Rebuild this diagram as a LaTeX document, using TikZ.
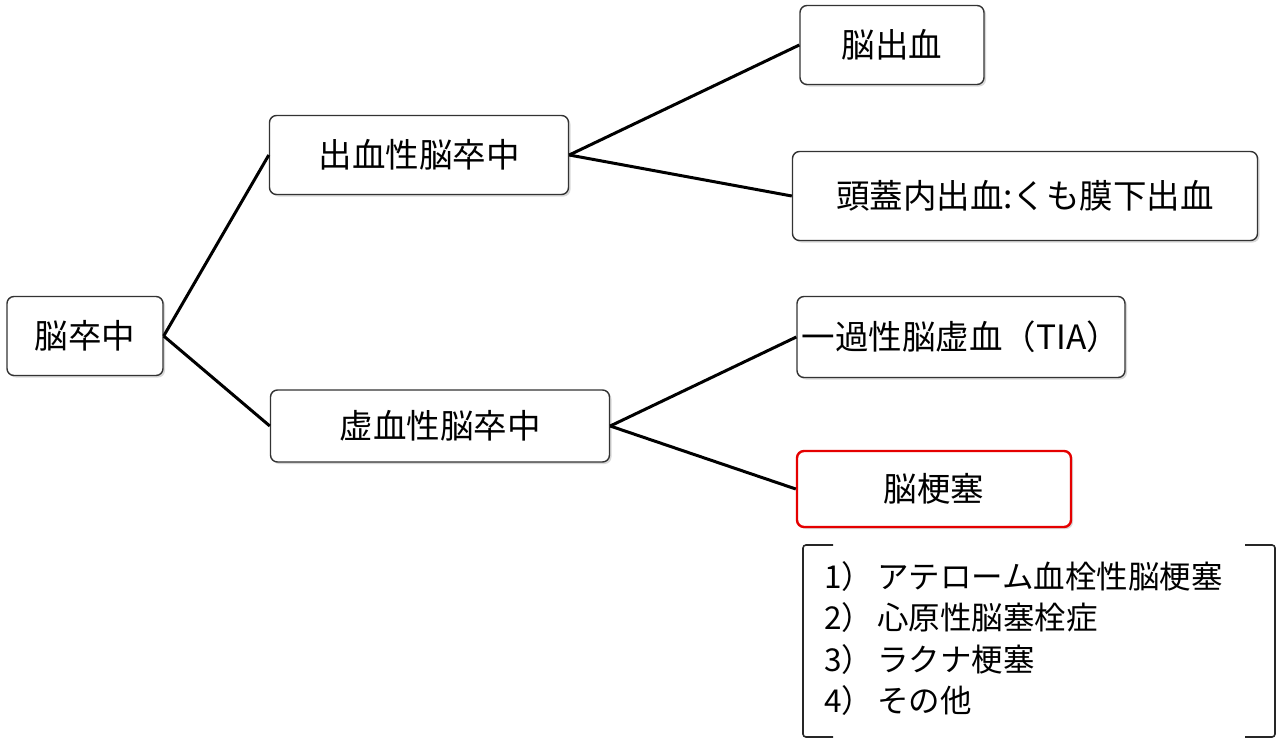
\documentclass[tikz,border=0pt]{standalone}
\usepackage{fontspec}
\setmainfont{Noto Sans CJK JP}
\usetikzlibrary{positioning,shadows,calc}

\begin{document}
\begin{tikzpicture}[x=1pt, y=-1pt,
    box/.style={draw=black!80, line width=1.4pt, rounded corners=7pt, fill=white,
      drop shadow={shadow xshift=2pt, shadow yshift=-2pt, fill=black!30},
      font=\fontsize{33.5}{38}\selectfont, inner sep=0pt, align=center},
    redbox/.style={box, draw=red!90!black, line width=2.4pt},
    link/.style={line width=3pt}]
    \useasboundingbox (0,0) rectangle (1280,742);

    % Root
    \node[box, minimum width=156pt, minimum height=79pt] (stroke) at (85,336) {脳卒中};

    % Second level
    \node[box, minimum width=299pt, minimum height=79pt] (hemo) at (419,155) {出血性脳卒中};
    \node[box, minimum width=339pt, minimum height=72pt] (isch) at (440,426) {虚血性脳卒中};

    % Third level
    \node[box, minimum width=184pt, minimum height=79pt] (ich) at (892,45) {脳出血};
    \node[box, minimum width=465pt, minimum height=89pt] (sah) at (1025,196) {頭蓋内出血:くも膜下出血};
    \node[box, minimum width=328pt, minimum height=81pt] (tia) at (961,337) {一過性脳虚血（TIA）};
    \node[redbox, minimum width=274pt, minimum height=76pt] (inf) at (934,489) {脳梗塞};

    % Connectors
    \draw[link] (stroke.east) -- (hemo.west);
    \draw[link] (stroke.east) -- (isch.west);
    \draw[link] (hemo.east) -- (ich.west);
    \draw[link] (hemo.east) -- (sah.west);
    \draw[link] (isch.east) -- (tia.west);
    \draw[link] (isch.east) -- (inf.west);

    % Subtypes in brackets
    \coordinate (bl) at (803,545);
    \coordinate (br) at (1275,545);
    \draw[line width=1.6pt, black!85, rounded corners=3pt]
      ($(bl)+(30,0)$) -- (bl) -- ++(0,192) -- ++(30,0);
    \draw[line width=1.6pt, black!85, rounded corners=3pt]
      ($(br)+(-30,0)$) -- (br) -- ++(0,192) -- ++(-30,0);
    \node[anchor=north west, inner sep=0pt, align=left,
      font=\fontsize{31.5}{41.5}\selectfont] (types) at (824,561)
      {1）\hspace{4pt}アテローム血栓性脳梗塞\\
       2）\hspace{4pt}心原性脳塞栓症\\
       3）\hspace{4pt}ラクナ梗塞\\
       4）\hspace{4pt}その他};
\end{tikzpicture}
\end{document}
